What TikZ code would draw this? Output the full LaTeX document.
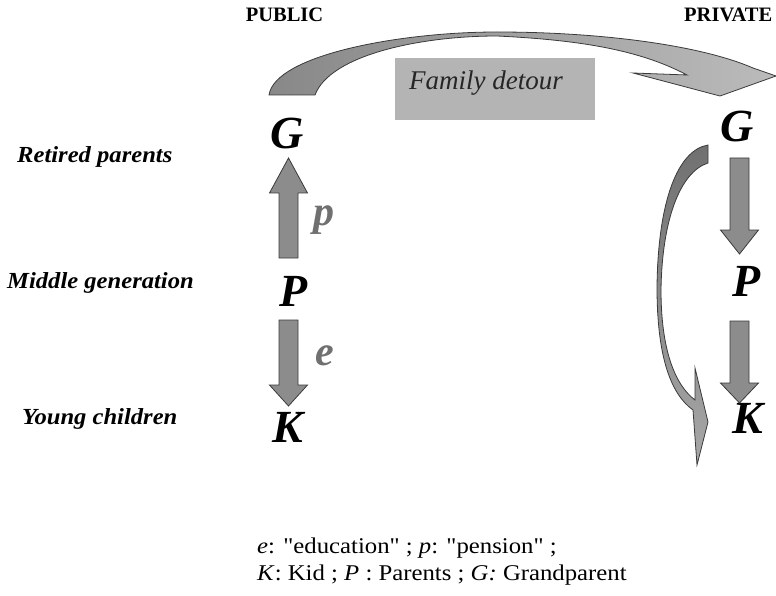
\documentclass[tikz,border=0pt]{standalone}
\usepackage{fontspec}
\setmainfont{Liberation Serif}
\newfontfamily\widefont{Liberation Serif}[FakeStretch=1.07,Ligatures=TeXOff]
\newfontfamily\legendfont{Liberation Serif}[FakeStretch=1.1,Ligatures=TeXOff]
\definecolor{arrowgray}{HTML}{8C8C8C}
\definecolor{edgegray}{HTML}{3A3A3A}
\definecolor{labelgray}{HTML}{707070}
\definecolor{boxgray}{HTML}{B4B4B4}
\definecolor{arcdark}{HTML}{888888}
\definecolor{arclight}{HTML}{BBBBBB}
\definecolor{curvedark}{HTML}{707070}
\definecolor{curvelight}{HTML}{A8A8A8}
\newcommand{\vblockarrow}[4]{\draw[blockarrow] ({#1-9.5},#2) -- ({#1+9.5},#2) -- ({#1+9.5},#3) -- ({#1+19},#3) -- (#1,#4) -- ({#1-19},#3) -- ({#1-9.5},#3) -- cycle;}
\begin{document}
\begin{tikzpicture}[x=1pt,y=-1pt,
 blockarrow/.style={fill=arrowgray,draw=edgegray,line width=0.8pt,line join=miter},
 bigletter/.style={inner sep=0pt,font=\fontsize{46}{46}\selectfont\bfseries\itshape},
 levellabel/.style={inner sep=0pt,anchor=base west,font=\widefont\fontsize{23}{23}\selectfont\bfseries\itshape},
 flowlabel/.style={inner sep=0pt,text=labelgray,font=\fontsize{42}{42}\selectfont\bfseries\itshape},
 sectorlabel/.style={inner sep=0pt,anchor=base,font=\fontsize{20.5}{20.5}\selectfont\bfseries},
 legend/.style={inner sep=0pt,anchor=base west,font=\legendfont\fontsize{22.5}{22.5}\selectfont},
]
\useasboundingbox (0,0) rectangle (776,596);

% sector headings
\node[sectorlabel] (public) at (284.5,22) {PUBLIC};
\node[sectorlabel,anchor=base west] (private) at (684,22) {PRIVATE};

% family detour box
\node[draw=none,fill=boxgray,minimum width=200pt,minimum height=62pt,inner sep=0pt] (detourbox) at (495,89) {};
\node[inner sep=0pt,anchor=base,text=black!85,font=\fontsize{27}{27}\selectfont\itshape] (detourtext) at (486,90) {Family detour};

% top curved arrow
\shadedraw[left color=arcdark,right color=arclight,draw=edgegray,line width=0.8pt,line join=miter]
 (269,95) .. controls (275,55) and (400,32) .. (497,32)
 .. controls (600,32) and (700,45) .. (753,68)
 -- (776,76) -- (720,96) -- (633,73) -- (687,75)
 .. controls (640,50) and (580,40) .. (497,36)
 .. controls (420,36) and (330,55) .. (315,95) -- cycle;

% level labels
\node[levellabel] (retired) at (17,163) {Retired parents};
\node[levellabel] (middle) at (7,288) {Middle generation};
\node[levellabel] (young) at (22,424) {Young children};

% public column
\node[bigletter] (Gpub) at (287,133) {G};
\node[bigletter] (Ppub) at (294,291) {P};
\node[bigletter] (Kpub) at (288,427) {K};
\vblockarrow{288.5}{258}{193}{158}
\vblockarrow{288.5}{320}{385}{406}
\node[flowlabel] (plabel) at (324,220) {p};
\node[flowlabel] (elabel) at (325,356) {e};

% private column
\node[bigletter] (Gpriv) at (737,126) {G};
\node[bigletter] (Ppriv) at (747,281) {P};
\node[bigletter] (Kpriv) at (748,418) {K};
\vblockarrow{739.5}{158}{230}{254}
\vblockarrow{739.5}{321}{383}{403}

% curved arrow G -> K (private)
\shadedraw[top color=curvedark,bottom color=curvelight,draw=edgegray,line width=0.8pt,line join=miter]
 (708,145) .. controls (678,150) and (658,200) .. (657,287)
 .. controls (657,360) and (672,395) .. (693,410)
 -- (697,465) -- (708,422) -- (695,368) -- (695,400)
 .. controls (675,385) and (661,350) .. (661,290)
 .. controls (662,220) and (680,172) .. (708,163) -- cycle;

% legend
\node[legend] (legendone) at (257,553) {\textit{e}: "education" ; \textit{p}: "pension" ;};
\node[legend] (legendtwo) at (257,580) {\textit{K}: Kid ; \textit{P} : Parents ; \textit{G:} Grandparent};
\end{tikzpicture}
\end{document}
